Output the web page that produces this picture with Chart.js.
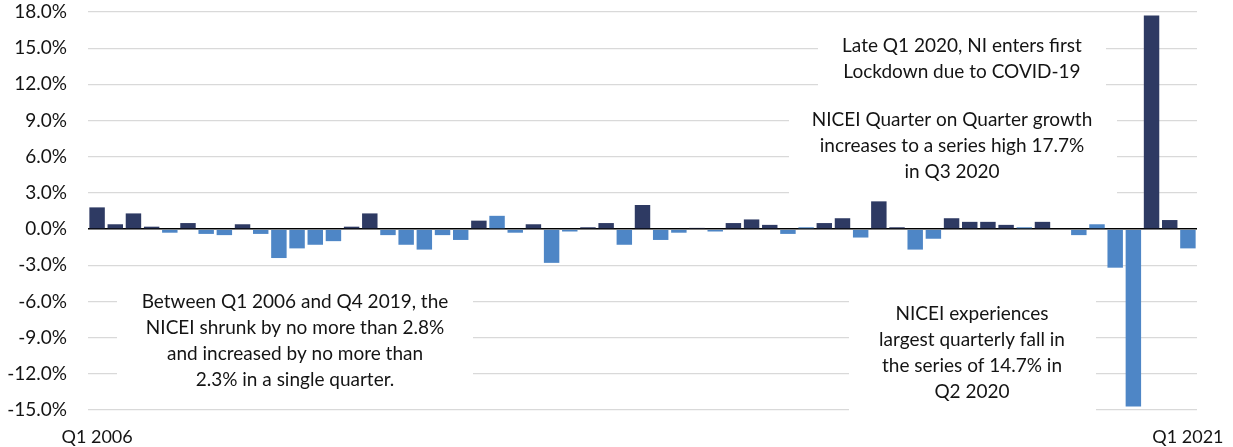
<!DOCTYPE html>
<html>
<head>
<meta charset="utf-8">
<script src="https://cdn.jsdelivr.net/npm/chart.js@4"></script>
<style>
  html, body { margin: 0; padding: 0; background: #fff; }
  #wrap { width: 1233px; height: 447px; }
</style>
</head>
<body>
<div id="wrap"><canvas id="bar_chart" width="1233" height="447"></canvas></div>
<script>
// Quarters, Q1 2006 to Q1 2021
var quarters = [
  'Q1 2006', 'Q2 2006', 'Q3 2006', 'Q4 2006',
  'Q1 2007', 'Q2 2007', 'Q3 2007', 'Q4 2007',
  'Q1 2008', 'Q2 2008', 'Q3 2008', 'Q4 2008',
  'Q1 2009', 'Q2 2009', 'Q3 2009', 'Q4 2009',
  'Q1 2010', 'Q2 2010', 'Q3 2010', 'Q4 2010',
  'Q1 2011', 'Q2 2011', 'Q3 2011', 'Q4 2011',
  'Q1 2012', 'Q2 2012', 'Q3 2012', 'Q4 2012',
  'Q1 2013', 'Q2 2013', 'Q3 2013', 'Q4 2013',
  'Q1 2014', 'Q2 2014', 'Q3 2014', 'Q4 2014',
  'Q1 2015', 'Q2 2015', 'Q3 2015', 'Q4 2015',
  'Q1 2016', 'Q2 2016', 'Q3 2016', 'Q4 2016',
  'Q1 2017', 'Q2 2017', 'Q3 2017', 'Q4 2017',
  'Q1 2018', 'Q2 2018', 'Q3 2018', 'Q4 2018',
  'Q1 2019', 'Q2 2019', 'Q3 2019', 'Q4 2019',
  'Q1 2020', 'Q2 2020', 'Q3 2020', 'Q4 2020',
  'Q1 2021'
];

// NICEI quarter on quarter change (%)
var qoq_change = [
  1.8, 0.4, 1.3, 0.2,
  -0.3, 0.5, -0.4, -0.5,
  0.4, -0.4, -2.4, -1.6,
  -1.3, -1.0, 0.2, 1.3,
  -0.5, -1.3, -1.7, -0.5,
  -0.9, 0.7, 1.1, -0.3,
  0.4, -2.8, -0.2, 0.15,
  0.5, -1.3, 2.0, -0.9,
  -0.3, 0.1, -0.2, 0.5,
  0.8, 0.35, -0.4, 0.15,
  0.5, 0.9, -0.7, 2.3,
  0.15, -1.7, -0.8, 0.9,
  0.6, 0.6, 0.35, 0.15,
  0.6, 0.0, -0.5, 0.4,
  -3.2, -14.7, 17.7, 0.75,
  -1.6
];

// bars drawn in the lighter shade although they are above zero
var light_positive = ['Q3 2011', 'Q4 2015', 'Q4 2018', 'Q4 2019'];

var y_min = -15;
var y_max = 18;
var y_step = 3;

var notes = [
  { lines: ['Late Q1 2020, NI enters first', 'Lockdown due to COVID-19'], box: [818, 28, 288, 66], cx: 962, y0: 46 },
  { lines: ['NICEI Quarter on Quarter growth', 'increases to a series high 17.7%', 'in Q3 2020'], box: [789, 100, 328, 95], cx: 952, y0: 120 },
  { lines: ['NICEI experiences', 'largest quarterly fall in', 'the series of 14.7% in', 'Q2 2020'], box: [849, 290, 247, 125], cx: 972, y0: 314 },
  { lines: ['Between Q1 2006 and Q4 2019, the', 'NICEI shrunk by no more than 2.8%', 'and increased by no more than', '2.3% in a single quarter.'], box: [117, 287, 356, 108], cx: 295, y0: 302 }
];

var dark = '#2e3a63';
var light = '#4e86c6';
var colours = [];
for (i = 0; i < qoq_change.length; i++) {
  if (qoq_change[i] < 0 || light_positive.includes(quarters[i])) {
    colours.push(light);
  }
  else {
    colours.push(dark);
  }
}

// white boxes with the notes, drawn under the bars
var notesPlugin = {
  id: 'notes',
  beforeDatasetsDraw: function (chart) {
    var ctx = chart.ctx;
    ctx.save();
    notes.forEach(function (n) {
      ctx.fillStyle = '#ffffff';
      ctx.fillRect(n.box[0], n.box[1], n.box[2], n.box[3]);
      ctx.fillStyle = '#141414';
      ctx.font = '19px Lato';
      ctx.textAlign = 'center';
      ctx.textBaseline = 'middle';
      for (j = 0; j < n.lines.length; j++) {
        ctx.fillText(n.lines[j], n.cx, n.y0 + j * 26);
      }
    });
    ctx.restore();
  }
};

var ctx = document.getElementById('bar_chart').getContext('2d');
var last = quarters.length - 1;

var myChart = new Chart(ctx, {
  type: 'bar',
  data: {
    labels: quarters,
    datasets: [{
      label: 'NICEI Quarter on Quarter change (%)',
      data: qoq_change,
      backgroundColor: colours,
      borderWidth: 0,
      categoryPercentage: 1.0,
      barPercentage: 0.85
    }]
  },
  options: {
    responsive: false,
    animation: false,
    layout: { padding: { top: 12, right: 36, left: 0, bottom: 0 } },
    plugins: {
      legend: { display: false },
      tooltip: { enabled: false }
    },
    scales: {
      x: {
        // invisible tick marks give the label gap without widening the side padding
        grid: { color: 'rgba(0,0,0,0)', tickColor: 'rgba(0,0,0,0)', drawTicks: true, tickLength: 16 },
        border: { display: false },
        ticks: {
          autoSkip: false,
          maxRotation: 0,
          minRotation: 0,
          padding: 0,
          color: '#141414',
          font: { family: 'Lato', size: 18 },
          callback: function (value, index) {
            return (index === 0 || index === last) ? quarters[index] : '';
          }
        },
        afterFit: function (scale) { scale.height = 37; }
      },
      y: {
        min: y_min,
        max: y_max,
        grid: {
          drawTicks: true,
          tickLength: 21,
          tickColor: 'rgba(0,0,0,0)',
          color: function (c) { return c.tick.value === 0 ? '#000000' : '#d9d9d9'; },
          lineWidth: function (c) { return c.tick.value === 0 ? 1.6 : 1.2; }
        },
        border: { display: false },
        ticks: {
          stepSize: y_step,
          padding: 0,
          color: '#141414',
          font: { family: 'Lato', size: 19 },
          callback: function (value) { return value.toFixed(1) + '%'; }
        },
        afterFit: function (scale) { scale.width = 88; }
      }
    }
  },
  plugins: [notesPlugin]
});
</script>
</body>
</html>
